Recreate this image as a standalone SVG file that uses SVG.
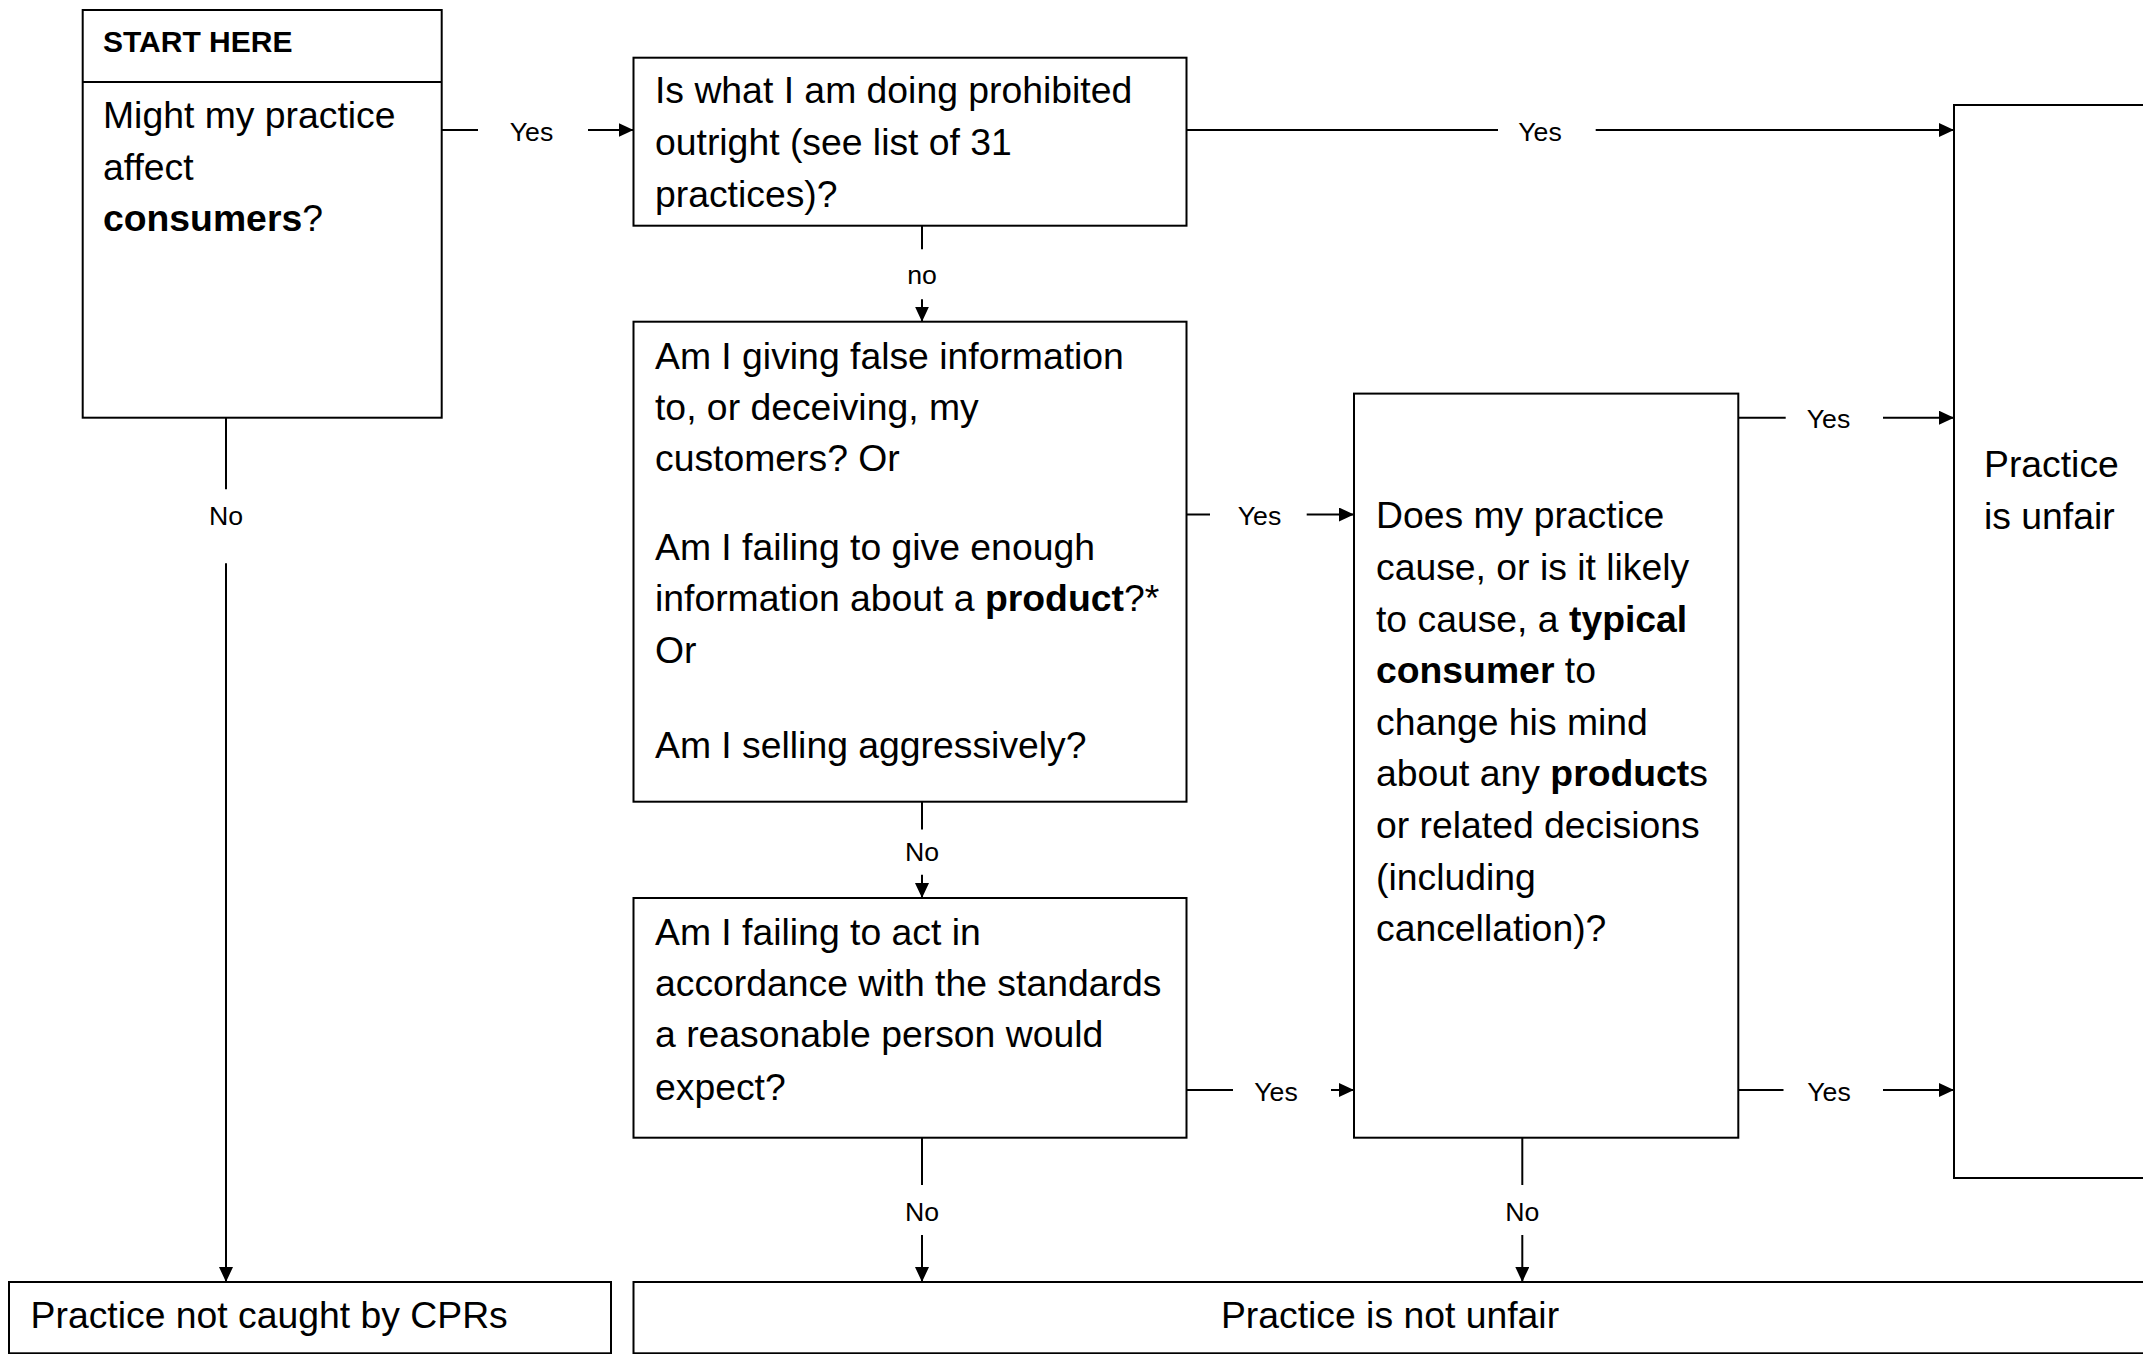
<svg xmlns="http://www.w3.org/2000/svg" width="2143" height="1354" viewBox="0 0 2143 1354">
<style>
.box{fill:#fff;stroke:#000;stroke-width:2}
.t{font-family:"Liberation Sans",Arial,sans-serif;font-size:37.33px;fill:#000}
.b{font-weight:bold}
.hd{font-family:"Liberation Sans",Arial,sans-serif;font-size:30px;font-weight:bold;fill:#000}
.lb{font-family:"Liberation Sans",Arial,sans-serif;font-size:26.67px;fill:#000;text-anchor:middle}
.ln{fill:none;stroke:#000;stroke-width:2}
</style>
<defs>
<marker id="ah" viewBox="0 0 15 14" refX="15" refY="7" markerWidth="15" markerHeight="14" orient="auto" markerUnits="userSpaceOnUse"><path d="M0,0 L15,7 L0,14 z" fill="#000"/></marker>
</defs>
<rect width="2143" height="1354" fill="#fff"/>

<g id="start">
<rect class="box" x="82.7" y="10" width="359" height="407.7"/>
<line class="ln" x1="82.7" y1="82" x2="441.7" y2="82"/>
<text class="hd" x="103" y="51.7">START HERE</text>
<text class="t" x="103" y="128.3">Might my practice</text>
<text class="t" x="103" y="179.6">affect</text>
<text class="t" x="103" y="230.9"><tspan class="b">consumers</tspan>?</text>
</g>

<g id="prohibited">
<rect class="box" x="633.5" y="57.7" width="553" height="168"/>
<text class="t" x="655" y="103.4">Is what I am doing prohibited</text>
<text class="t" x="655" y="155">outright (see list of 31</text>
<text class="t" x="655" y="207.2">practices)?</text>
</g>

<g id="misleading">
<rect class="box" x="633.5" y="321.7" width="553" height="480"/>
<text class="t" x="655" y="368.8">Am I giving false information</text>
<text class="t" x="655" y="420">to, or deceiving, my</text>
<text class="t" x="655" y="471.2">customers? Or</text>
<text class="t" x="655" y="559.7">Am I failing to give enough</text>
<text class="t" x="655" y="611.3">information about a <tspan class="b">product</tspan>?*</text>
<text class="t" x="655" y="662.7">Or</text>
<text class="t" x="655" y="757.5">Am I selling aggressively?</text>
</g>

<g id="standards">
<rect class="box" x="633.5" y="898" width="553" height="239.7"/>
<text class="t" x="655" y="944.5">Am I failing to act in</text>
<text class="t" x="655" y="995.8">accordance with the standards</text>
<text class="t" x="655" y="1047.2">a reasonable person would</text>
<text class="t" x="655" y="1099.5">expect?</text>
</g>

<g id="typical">
<rect class="box" x="1354" y="393.6" width="384.3" height="744.1"/>
<text class="t" x="1376" y="528.4">Does my practice</text>
<text class="t" x="1376" y="580">cause, or is it likely</text>
<text class="t" x="1376" y="631.6">to cause, a <tspan class="b">typical</tspan></text>
<text class="t" x="1376" y="683.2"><tspan class="b">consumer</tspan> to</text>
<text class="t" x="1376" y="734.8">change his mind</text>
<text class="t" x="1376" y="786.4">about any <tspan class="b">product</tspan>s</text>
<text class="t" x="1376" y="838">or related decisions</text>
<text class="t" x="1376" y="889.6">(including</text>
<text class="t" x="1376" y="941.2">cancellation)?</text>
</g>

<g id="unfair">
<rect class="box" x="1954" y="105" width="210" height="1073"/>
<text class="t" x="1984" y="477">Practice</text>
<text class="t" x="1984" y="528.5">is unfair</text>
</g>

<g id="notcaught">
<rect class="box" x="9" y="1282" width="602" height="71.3"/>
<text class="t" x="30.6" y="1327.8">Practice not caught by CPRs</text>
</g>

<g id="notunfair">
<rect class="box" x="633.5" y="1282" width="1530" height="71.3"/>
<text class="t" x="1390" y="1327.8" text-anchor="middle">Practice is not unfair</text>
</g>

<g id="connectors">
<line class="ln" x1="441.7" y1="130" x2="478" y2="130"/>
<line class="ln" x1="588" y1="130" x2="633.5" y2="130" marker-end="url(#ah)"/>
<text class="lb" x="531.5" y="140.6">Yes</text>

<line class="ln" x1="1186.5" y1="130" x2="1498" y2="130"/>
<line class="ln" x1="1595.7" y1="130" x2="1954" y2="130" marker-end="url(#ah)"/>
<text class="lb" x="1540" y="140.6">Yes</text>

<line class="ln" x1="1738.3" y1="417.7" x2="1785.7" y2="417.7"/>
<line class="ln" x1="1883" y1="417.7" x2="1954" y2="417.7" marker-end="url(#ah)"/>
<text class="lb" x="1828.5" y="428.3">Yes</text>

<line class="ln" x1="1186.5" y1="514.5" x2="1210" y2="514.5"/>
<line class="ln" x1="1306.7" y1="514.5" x2="1354" y2="514.5" marker-end="url(#ah)"/>
<text class="lb" x="1259.5" y="525">Yes</text>

<line class="ln" x1="1186.5" y1="1090" x2="1233" y2="1090"/>
<line class="ln" x1="1331" y1="1090" x2="1354" y2="1090" marker-end="url(#ah)"/>
<text class="lb" x="1276" y="1100.7">Yes</text>

<line class="ln" x1="1738.3" y1="1090" x2="1783.5" y2="1090"/>
<line class="ln" x1="1883" y1="1090" x2="1954" y2="1090" marker-end="url(#ah)"/>
<text class="lb" x="1829" y="1100.7">Yes</text>

<line class="ln" x1="226" y1="417.7" x2="226" y2="489.3"/>
<line class="ln" x1="226" y1="563.3" x2="226" y2="1282" marker-end="url(#ah)"/>
<text class="lb" x="226" y="525">No</text>

<line class="ln" x1="922" y1="225.7" x2="922" y2="249.3"/>
<line class="ln" x1="922" y1="299.3" x2="922" y2="321.7" marker-end="url(#ah)"/>
<text class="lb" x="922" y="284">no</text>

<line class="ln" x1="922" y1="801.7" x2="922" y2="829.6"/>
<line class="ln" x1="922" y1="874.7" x2="922" y2="898" marker-end="url(#ah)"/>
<text class="lb" x="922" y="861">No</text>

<line class="ln" x1="922" y1="1137.7" x2="922" y2="1185"/>
<line class="ln" x1="922" y1="1235" x2="922" y2="1282" marker-end="url(#ah)"/>
<text class="lb" x="922" y="1220.7">No</text>

<line class="ln" x1="1522.3" y1="1137.7" x2="1522.3" y2="1185"/>
<line class="ln" x1="1522.3" y1="1235" x2="1522.3" y2="1282" marker-end="url(#ah)"/>
<text class="lb" x="1522.3" y="1220.7">No</text>
</g>
</svg>
